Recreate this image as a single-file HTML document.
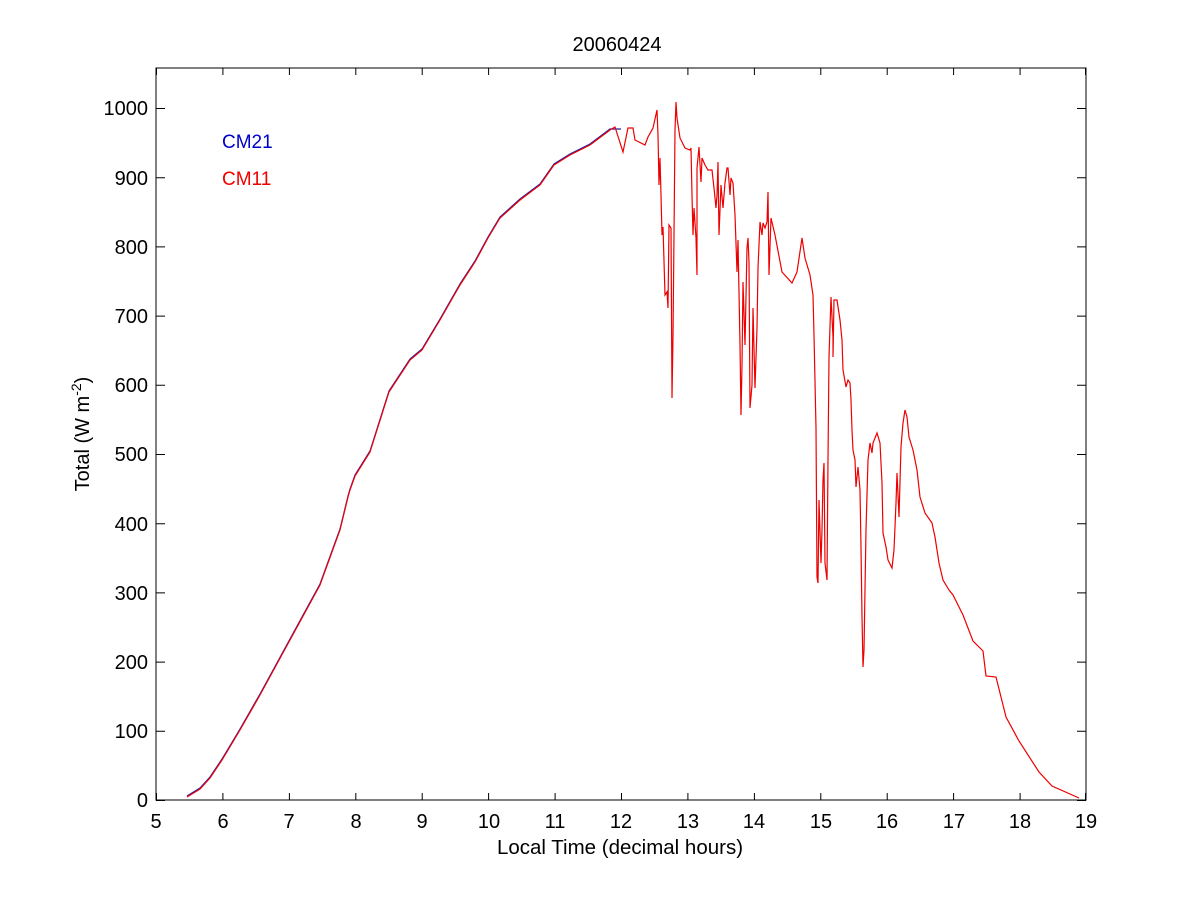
<!DOCTYPE html>
<html><head><meta charset="utf-8"><style>body{margin:0;background:#fff}svg{display:block;font-family:"Liberation Sans",Arial,sans-serif}</style></head><body>
<svg width="1200" height="900" xmlns="http://www.w3.org/2000/svg">
<rect width="1200" height="900" fill="#fff"/>
<rect x="156" y="68" width="930" height="732" fill="none" stroke="#000" stroke-width="1"/>
<g stroke="#000" stroke-width="1">
<path d="M156.5 800v-7M222.9 800v-7M289.4 800v-7M355.8 800v-7M422.2 800v-7M488.6 800v-7M555.1 800v-7M621.5 800v-7M687.9 800v-7M754.4 800v-7M820.8 800v-7M887.2 800v-7M953.6 800v-7M1020.1 800v-7M1085.5 800v-7"/>
<path d="M156.5 68v7M222.9 68v7M289.4 68v7M355.8 68v7M422.2 68v7M488.6 68v7M555.1 68v7M621.5 68v7M687.9 68v7M754.4 68v7M820.8 68v7M887.2 68v7M953.6 68v7M1020.1 68v7M1085.5 68v7"/>
<path d="M156 800.5h9M156 731.3h9M156 662.1h9M156 592.9h9M156 523.7h9M156 454.5h9M156 385.3h9M156 316.1h9M156 246.9h9M156 177.7h9M156 108.5h9"/>
<path d="M1086 800.5h-9M1086 731.3h-9M1086 662.1h-9M1086 592.9h-9M1086 523.7h-9M1086 454.5h-9M1086 385.3h-9M1086 316.1h-9M1086 246.9h-9M1086 177.7h-9M1086 108.5h-9"/>
</g>
<g font-size="20" fill="#000" text-anchor="middle">
<text x="156" y="828">5</text><text x="223" y="828">6</text><text x="289" y="828">7</text><text x="356" y="828">8</text><text x="422" y="828">9</text><text x="489" y="828">10</text><text x="555" y="828">11</text><text x="621" y="828">12</text><text x="688" y="828">13</text><text x="754" y="828">14</text><text x="821" y="828">15</text><text x="887" y="828">16</text><text x="954" y="828">17</text><text x="1020" y="828">18</text><text x="1086" y="828">19</text>
</g>
<g font-size="20" fill="#000" text-anchor="end">
<text x="148" y="807">0</text><text x="148" y="738">100</text><text x="148" y="669">200</text><text x="148" y="600">300</text><text x="148" y="531">400</text><text x="148" y="461">500</text><text x="148" y="392">600</text><text x="148" y="323">700</text><text x="148" y="254">800</text><text x="148" y="185">900</text><text x="148" y="115">1000</text>
</g>
<text x="620" y="854" font-size="20.5" text-anchor="middle">Local Time (decimal hours)</text>
<text x="617" y="51" font-size="20" text-anchor="middle">20060424</text>
<text transform="translate(89,434) rotate(-90)" font-size="20" text-anchor="middle">Total (W m<tspan font-size="14" dy="-8">-2</tspan><tspan dy="8">)</tspan></text>
<text x="222" y="148" font-size="19" fill="#0000cc">CM21</text>
<text x="222" y="185" font-size="19" fill="#ee0000">CM11</text>
<polyline fill="none" stroke="#2020aa" stroke-width="1.2" transform="translate(0,-1)" points="187,797 200,789 210,778 222,760 240,730 260,695 290,640 320,585 340,530 348,497 350,490 355,476 370,452 389,392 410,360 422,350 440,320 460,285 475,262 488,238 500,218 520,200 540,185 554,165 570,155 590,145 610,130 621,130"/>
<polyline fill="none" stroke="#ee0000" stroke-width="1.2" points="187,797 200,789 210,778 222,760 240,730 260,695 290,640 320,585 340,530 348,497 350,490 355,476 370,452 389,392 410,360 422,350 440,320 460,285 475,262 488,238 500,218 520,200 540,185 554,165 570,155 590,145 610,130 615,127 623,152 628,128 633,128 635,140 645,145 648,137 653,128 657,110 658,135 659,185 660,158 661,195 662,235 663,227 665,295 667,292 668,308 669,225 671,228 672,398 673,335 674,235 675,130 676,102 677,118 680,138 685,148 690,150 691,148 692,195 693,235 694,208 696,238 697,275 697,168 699,147 701,182 702,158 705,165 708,170 712,170 714,188 716,208 717,195 718,162 719,235 721,185 723,208 725,183 727,168 728,168 730,195 731,178 733,183 735,215 737,272 738,240 740,345 741,415 742,365 743,282 745,345 747,248 748,238 749,262 750,408 752,385 753,308 755,388 757,328 758,268 760,222 762,235 763,223 765,228 767,222 768,192 769,275 771,218 775,235 782,272 792,283 797,272 802,238 805,258 810,275 813,295 814,335 816,428 817,577 818,583 819,500 821,563 822,530 823,480 824,463 825,563 827,580 828,460 829,357 831,297 833,337 833,357 834,300 837,300 840,320 842,340 843,370 846,387 848,380 850,383 851,400 852,430 853,450 855,460 856,487 858,467 860,490 861,547 862,617 863,667 864,650 865,590 866,530 868,460 870,443 872,453 873,443 877,433 880,443 882,483 883,533 886,547 888,560 892,568 894,550 896,503 897,473 899,517 901,447 903,423 905,410 907,417 909,437 913,450 917,470 920,497 925,513 932,523 935,537 939,563 943,580 949,590 953,595 963,615 973,641 983,651 986,676 996,677 1006,717 1019,741 1039,772 1052,786 1079,798"/>
</svg>
</body></html>
